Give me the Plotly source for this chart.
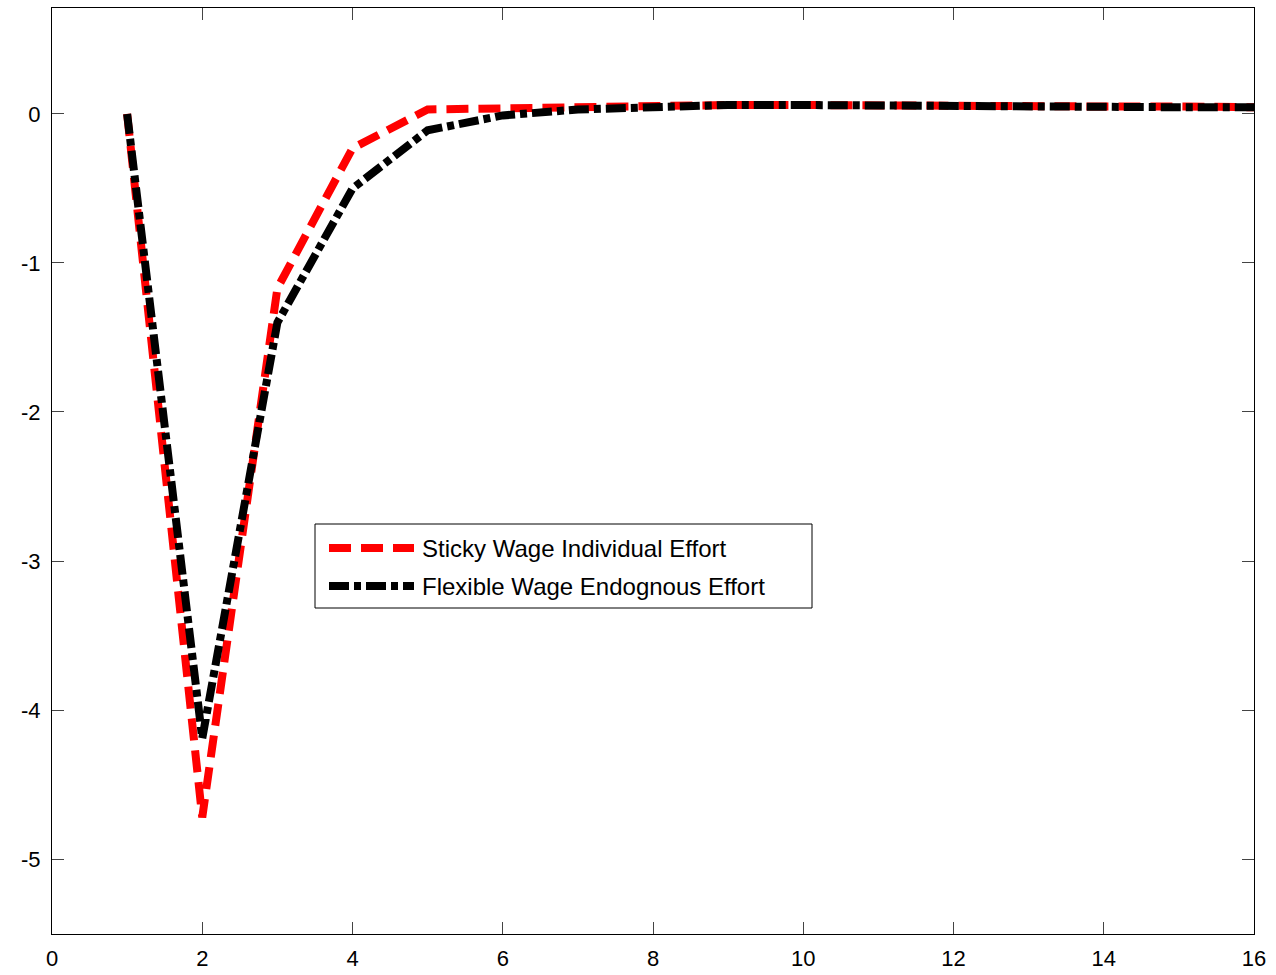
import plotly.graph_objects as go

periods = list(range(1, 17))
sticky_wage = [0, -4.72, -1.17, -0.23, 0.03, 0.04, 0.05, 0.06, 0.06, 0.06, 0.055, 0.055, 0.05, 0.05, 0.05, 0.045]
flexible_wage = [0, -4.19, -1.40, -0.50, -0.11, -0.01, 0.03, 0.05, 0.06, 0.06, 0.055, 0.05, 0.05, 0.05, 0.045, 0.045]
series_names = ["Sticky Wage Individual Effort", "Flexible Wage Endognous Effort"]
x_ticks = list(range(0, 17, 2))
y_ticks = [0, -1, -2, -3, -4, -5]

RED_DASH = "22px,10px"
BLACK_DASH = "20px,5px,7px,5px"
FONT = "Liberation Sans, Arial"

fig = go.Figure()
fig.add_trace(go.Scatter(x=periods, y=sticky_wage, mode="lines", name=series_names[0],
                         line=dict(color="#ff0000", width=8, dash=RED_DASH), showlegend=False))
fig.add_trace(go.Scatter(x=periods, y=flexible_wage, mode="lines", name=series_names[1],
                         line=dict(color="#000000", width=8, dash=BLACK_DASH), showlegend=False))

W, H = 1276, 975
L, R, T, B = 52, 1254, 8, 934
def px(x):
    return (x - L) / (R - L)
def py(y):
    return (B - y) / (B - T)

# legend box
fig.add_shape(type="rect", xref="paper", yref="paper", x0=px(315), x1=px(812), y0=py(608), y1=py(524),
              line=dict(color="black", width=1), fillcolor="white", layer="above")
rows = [548, 586]
styles = [("#ff0000", RED_DASH), ("#000000", BLACK_DASH)]
for name, yrow, (col, dsh) in zip(series_names, rows, styles):
    fig.add_shape(type="line", xref="paper", yref="paper", x0=px(329), x1=px(414), y0=py(yrow), y1=py(yrow),
                  line=dict(color=col, width=8, dash=dsh), layer="above")
    fig.add_annotation(xref="paper", yref="paper", x=px(420), y=py(yrow), text=name, showarrow=False,
                       xanchor="left", yanchor="middle", font=dict(family=FONT, size=24, color="black"))

axis_common = dict(showline=True, linecolor="black", linewidth=1, mirror="ticks", ticks="inside",
                   ticklen=12, tickcolor="#444", showgrid=False, zeroline=False, automargin=False,
                   tickfont=dict(family=FONT, size=22, color="black"))
fig.update_xaxes(range=[0, 16], tickvals=x_ticks, ticktext=[str(v) for v in x_ticks],
                 ticklabelstandoff=5, **axis_common)
fig.update_yaxes(range=[-5.503, 0.711], tickvals=y_ticks, ticktext=[str(v) for v in y_ticks],
                 ticklabelstandoff=6, **axis_common)

fig.update_layout(width=W, height=H, margin=dict(l=L, r=W - R, t=T, b=H - B, autoexpand=False),
                  plot_bgcolor="white", paper_bgcolor="white", showlegend=False)
fig.write_html("out.html")
